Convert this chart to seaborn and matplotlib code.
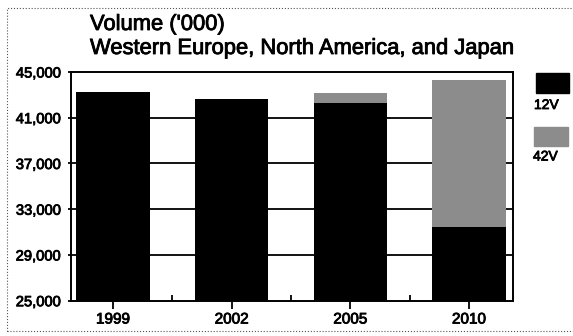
import matplotlib
matplotlib.use("Agg")
import matplotlib.pyplot as plt
import matplotlib.patheffects as pe
import seaborn as sns
import pandas as pd
from matplotlib.patches import Rectangle
from matplotlib.ticker import FuncFormatter, FixedLocator

years = ["1999", "2002", "2005", "2010"]
v12 = [43250, 42610, 42260, 31420]
v42 = [0, 0, 880, 12880]
y_ticks = [25000, 29000, 33000, 37000, 41000, 45000]

sns.set_theme(style="white")
plt.rcParams['font.family'] = ['Liberation Sans', 'DejaVu Sans']

df = pd.DataFrame({"year": years, "v12": v12, "v42": v42})
df["total"] = df["v12"] + df["v42"]

W, H = 573, 336
fig = plt.figure(figsize=(W / 100, H / 100), dpi=100)
ax = fig.add_axes([71 / W, 1 - 300.7 / H, (513 - 71) / W, (300.7 - 72) / H])

grey = "#8c8c8c"
sns.barplot(data=df, x="year", y="total", color=grey, saturation=1,
            width=0.62, ax=ax, zorder=3, edgecolor="none")
sns.barplot(data=df, x="year", y="v12", color="black", saturation=1,
            width=0.62, ax=ax, zorder=4, edgecolor="none")

ax.set_ylim(25000, 45000)
ax.set_xlim(-0.354, 3.371)
ax.set_yticks(y_ticks)
ax.yaxis.set_major_formatter(FuncFormatter(lambda v, p: f"{int(v):,}"))
ax.set_xlabel("")
ax.set_ylabel("")
for g in y_ticks[1:-1]:
    ax.axhline(g, color="black", lw=1.3, zorder=2)

ax.xaxis.set_minor_locator(FixedLocator([0.5, 1.5, 2.5]))
ax.tick_params(axis="x", which="major", direction="out", length=5.5, width=1.3,
               color="black", labelsize=11, pad=3, bottom=True)
ax.tick_params(axis="x", which="minor", direction="in", length=4, width=1.3,
               color="black", bottom=True)
ax.tick_params(axis="y", which="major", direction="out", length=2, width=1.3,
               color="black", labelsize=10.6, pad=5, left=True)
for s in ax.spines.values():
    s.set_visible(True)
    s.set_color("black")
    s.set_linewidth(1.4)

heavy = [pe.withStroke(linewidth=0.6, foreground="black")]
for lab in ax.get_xticklabels() + ax.get_yticklabels():
    lab.set_color("black")
    lab.set_path_effects(heavy)

fig.text(90 / W, 1 - 30 / H, "Volume ('000)", fontsize=15.8, va="baseline",
         ha="left", color="black", path_effects=heavy)
fig.text(90 / W, 1 - 54 / H, "Western Europe, North America, and Japan",
         fontsize=15.8, va="baseline", ha="left", color="black", path_effects=heavy)

# legend on the right
fig.patches.append(Rectangle((536 / W, 1 - 93 / H), 33 / W, 20 / H,
                             transform=fig.transFigure, color="black"))
fig.text(534 / W, 1 - 105 / H, "12V", fontsize=10, va="center", ha="left",
         color="black", path_effects=heavy)
fig.patches.append(Rectangle((534 / W, 1 - 146 / H), 34 / W, 19 / H,
                             transform=fig.transFigure, color=grey))
fig.text(533 / W, 1 - 156.5 / H, "42V", fontsize=10, va="center", ha="left",
         color="black", path_effects=heavy)

# dotted border
fig.patches.append(Rectangle((7 / W, 1 - 331 / H), 570 / W, 323 / H,
                             transform=fig.transFigure, fill=False,
                             linestyle=":", edgecolor="#555555", lw=0.8))

fig.savefig("out.png", dpi=100)
